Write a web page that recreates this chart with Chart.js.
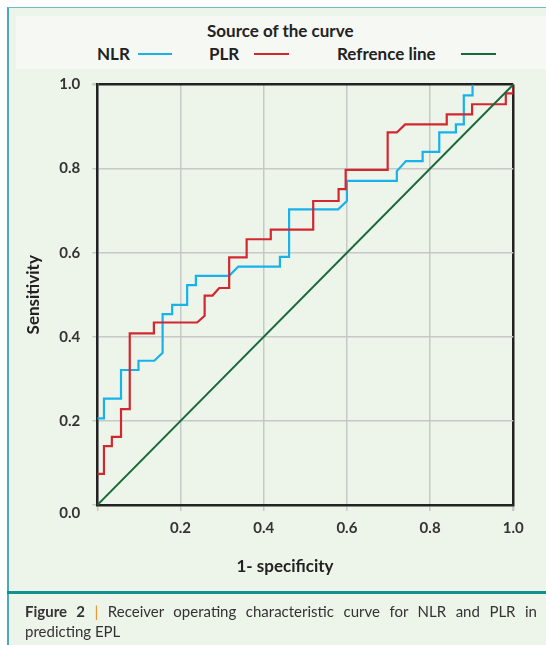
<!DOCTYPE html>
<html>
<head>
<meta charset="utf-8">
<script src="https://cdn.jsdelivr.net/npm/chart.js@4.4.0/dist/chart.umd.min.js"></script>
<style>
  html, body { margin: 0; padding: 0; }
  body {
    width: 546px; height: 645px; position: relative; overflow: hidden;
    background: #fff; font-family: Lato, "Open Sans", sans-serif;
  }
  #frame {
    position: absolute; left: 7px; top: 7px; right: 0; bottom: 0;
    background: #edf5ea;
    border-left: 2px solid #46adb7; border-top: 1px solid #6cbdc4;
  }
  #legendBox {
    position: absolute; left: 16px; top: 16px; width: 530px; height: 53px;
    background: #f6f8f4;
  }
  .lg { position: absolute; font-weight: bold; font-size: 17px; color: #222; line-height: 20px; white-space: nowrap; }
  .sw { position: absolute; height: 2px; }
  #chartWrap { position: absolute; left: 0; top: 0; }
  #xTitle { position: absolute; top: 555px; left: 0; width: 570px; text-align: center; font-weight: bold; font-size: 17px; color: #222; }
  #sep { position: absolute; left: 7px; right: 0; top: 591px; height: 3px; background: #14918f; }
  #caption {
    position: absolute; left: 25px; top: 601px; width: 512px;
    font-size: 15px; line-height: 20px; color: #333; text-align: justify;
  }
  #caption b { color: #333; }
  #caption .bar { color: #ef8a2a; }
</style>
</head>
<body>
<div id="frame"></div>
<div id="legendBox"></div>
<div class="lg" style="left:207px; top:21px;">Source of the curve</div>
<div class="lg" style="left:97px; top:44px;">NLR</div>
<div class="sw" style="left:138px; top:53px; width:34px; background:#18b1ea;"></div>
<div class="lg" style="left:209px; top:44px;">PLR</div>
<div class="sw" style="left:254px; top:53px; width:35px; background:#d3272f;"></div>
<div class="lg" style="left:337px; top:44px;">Refrence line</div>
<div class="sw" style="left:461px; top:53px; width:35px; background:#17693a;"></div>

<div id="chartWrap"><canvas id="roc" width="546" height="590"></canvas></div>
<div id="xTitle">1- specificity</div>
<div id="sep"></div>
<div id="caption"><b>Figure 2</b> <span class="bar">|</span> Receiver operating characteristic curve for NLR and PLR in predicting EPL</div>

<script>
// ROC curve data (1 - specificity, sensitivity)
const nlrX = [0, 0.016, 0.016, 0.057, 0.057, 0.099, 0.099, 0.137, 0.157, 0.157, 0.180, 0.180, 0.216, 0.216, 0.237, 0.237, 0.317, 0.339, 0.439, 0.439, 0.461, 0.461, 0.579, 0.600, 0.600, 0.720, 0.720, 0.742, 0.782, 0.782, 0.822, 0.822, 0.862, 0.862, 0.881, 0.881, 0.902, 0.902];
const nlrY = [0.206, 0.206, 0.253, 0.253, 0.321, 0.321, 0.343, 0.343, 0.362, 0.454, 0.454, 0.476, 0.476, 0.523, 0.523, 0.545, 0.545, 0.567, 0.567, 0.590, 0.590, 0.703, 0.703, 0.723, 0.771, 0.771, 0.794, 0.818, 0.818, 0.840, 0.840, 0.886, 0.886, 0.905, 0.905, 0.974, 0.974, 1.0];

const plrX = [0, 0.016, 0.016, 0.035, 0.035, 0.057, 0.057, 0.078, 0.078, 0.136, 0.136, 0.240, 0.258, 0.258, 0.277, 0.293, 0.317, 0.317, 0.359, 0.359, 0.417, 0.417, 0.519, 0.519, 0.580, 0.580, 0.597, 0.597, 0.698, 0.698, 0.720, 0.740, 0.840, 0.840, 0.901, 0.901, 0.982, 0.982, 1.0, 1.0];
const plrY = [0.074, 0.074, 0.140, 0.140, 0.162, 0.162, 0.228, 0.228, 0.408, 0.408, 0.434, 0.434, 0.450, 0.498, 0.498, 0.516, 0.516, 0.589, 0.589, 0.632, 0.632, 0.655, 0.655, 0.723, 0.723, 0.751, 0.751, 0.797, 0.797, 0.886, 0.886, 0.905, 0.905, 0.929, 0.929, 0.953, 0.953, 0.979, 0.979, 1.0];

const refX = [0, 1];
const refY = [0, 1];

// 0.0 sits a little below its tick in the original, hence the blank first line
const yTickLabels = [['', '0.0'], '0.2', '0.4', '0.6', '0.8', '1.0'];
const xTickLabels = ['', '0.2', '0.4', '0.6', '0.8', '1.0'];

function pts(xs, ys) {
  return xs.map((x, i) => ({ x: x, y: ys[i] }));
}

const gridColor = '#c8c8c8';
const boxColor = '#222';

// the 1.0 grid lines close the box on top and right
const gridLineColor = ctx => (ctx.tick && ctx.tick.value === 1 ? boxColor : gridColor);
const gridLineWidth = ctx => (ctx.tick && ctx.tick.value === 1 ? 2.5 : 1.5);

const tickFont = { family: 'Lato', size: 15, weight: 'bold', lineHeight: 1.1 };

new Chart(document.getElementById('roc'), {
  type: 'line',
  data: {
    datasets: [
      { label: 'Refrence line', data: pts(refX, refY), borderColor: '#17693a', borderWidth: 2 },
      { label: 'PLR', data: pts(plrX, plrY), borderColor: '#d3272f', borderWidth: 2.2 },
      { label: 'NLR', data: pts(nlrX, nlrY), borderColor: '#18b1ea', borderWidth: 2.2 }
    ]
  },
  options: {
    responsive: false,
    animation: false,
    elements: { point: { radius: 0 }, line: { tension: 0 } },
    layout: { padding: { left: 0, top: 84.5, right: 32.7, bottom: 45 } },
    plugins: { legend: { display: false }, tooltip: { enabled: false } },
    scales: {
      x: {
        type: 'linear', min: 0, max: 1,
        afterFit: s => { s.height = 40; },
        ticks: {
          stepSize: 0.2, padding: 9, color: '#333', font: tickFont, maxRotation: 0,
          callback: (v) => xTickLabels[Math.round(v * 5)]
        },
        grid: { color: gridLineColor, lineWidth: gridLineWidth, tickColor: gridColor, tickLength: 6 },
        border: { display: true, color: boxColor, width: 2.5 }
      },
      y: {
        type: 'linear', min: 0, max: 1,
        afterFit: s => { s.width = 97.3; },
        ticks: {
          stepSize: 0.2, padding: 12, color: '#333', font: tickFont,
          callback: (v) => yTickLabels[Math.round(v * 5)]
        },
        grid: { color: gridLineColor, lineWidth: gridLineWidth, tickColor: gridColor, tickLength: 5 },
        border: { display: true, color: boxColor, width: 2.5 },
        title: {
          display: true, text: 'Sensitivity', color: '#222',
          font: { family: 'Lato', size: 17, weight: 'bold' },
          padding: { top: 23, bottom: 0 }
        }
      }
    }
  }
});
</script>
</body>
</html>
